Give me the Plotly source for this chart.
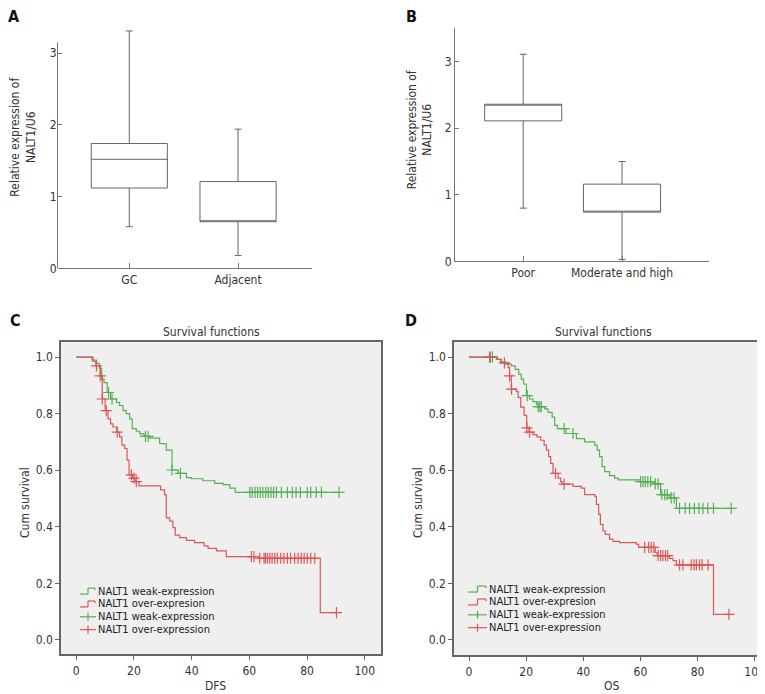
import numpy as np
import plotly.graph_objects as go

W, H = 765, 694
FONT = "DejaVu Sans Condensed, DejaVu Sans, sans-serif"
TXT = "#333333"
AX = "#777777"
GREEN = "#55b055"
RED = "#e05555"

# ---------------- Panel A: box plot ----------------
a_groups = ["GC", "Adjacent"]
a_lower = [0.58, 0.18]
a_q1 = [1.12, 0.65]
a_median = [1.52, 0.65]
a_q3 = [1.74, 1.21]
a_upper = [3.31, 1.94]
a_yticks = [0, 1, 2, 3]

# ---------------- Panel B: box plot ----------------
b_groups = ["Poor", "Moderate and high"]
b_lower = [0.80, 0.03]
b_q1 = [2.11, 0.74]
b_median = [2.36, 0.74]
b_q3 = [2.36, 1.16]
b_upper = [3.11, 1.50]
b_yticks = [0, 1, 2, 3]

# ---------------- Panel C: DFS Kaplan-Meier ----------------
c_weak_t = [0, 5.4, 7.0, 8.0, 8.8, 9.6, 10.7, 11.9, 13.9, 15.0, 16.2, 17.3, 18.5, 19.4, 20.8,
            22.0, 23.5, 25.4, 28.9, 31.2, 33.2, 35.3, 38.2, 40.0, 43.9, 48.0, 50.9, 53.2, 55.1, 91.1]
c_weak_s = [1.0, 0.99, 0.978, 0.96, 0.922, 0.91, 0.875, 0.852, 0.84, 0.829, 0.811, 0.80, 0.782, 0.747, 0.738,
            0.729, 0.72, 0.714, 0.694, 0.671, 0.601, 0.589, 0.574, 0.57, 0.563, 0.554, 0.549, 0.537, 0.522, 0.522]
c_weak_cens = [11.2, 12.4, 24.0, 24.9, 33.2, 36.1, 60.2, 61.0, 62.0, 62.9, 63.8, 64.7, 65.7, 66.6, 67.5,
               68.4, 69.4, 71.1, 73.2, 74.9, 76.2, 77.7, 80.1, 81.3, 83.2, 85.0, 91.1]

c_over_t = [0, 5.8, 6.8, 8.3, 9.0, 10.0, 11.0, 11.9, 12.7, 14.0, 15.0, 15.8, 16.8, 17.6, 18.3, 19.5, 20.4,
            21.7, 29.2, 30.6, 31.2, 32.4, 33.5, 34.3, 35.8, 38.2, 41.0, 44.3, 45.7, 48.6, 52.0, 63.3, 84.6, 90.2]
c_over_s = [1.0, 0.985, 0.969, 0.934, 0.852, 0.811, 0.782, 0.764, 0.753, 0.735, 0.718, 0.689, 0.677, 0.636,
            0.584, 0.572, 0.56, 0.545, 0.531, 0.514, 0.432, 0.42, 0.397, 0.371, 0.362, 0.352, 0.344, 0.333,
            0.324, 0.315, 0.295, 0.289, 0.097, 0.097]
c_over_cens = [7.0, 8.3, 9.0, 10.4, 14.2, 19.1, 20.0, 20.8, 60.7, 61.6, 63.6, 65.1, 65.6, 66.3, 67.1, 67.9,
               68.8, 69.7, 70.9, 72.0, 73.2, 74.3, 75.7, 76.9, 78.0, 79.0, 80.1, 81.3, 82.7, 90.2]

# ---------------- Panel D: OS Kaplan-Meier ----------------
d_weak_t = [0, 9.6, 11.3, 12.8, 14.8, 16.2, 17.4, 18.3, 19.1, 20.1, 21.2, 22.4, 23.6, 24.1, 26.5, 27.7,
            29.1, 30.0, 30.9, 34.0, 37.6, 40.5, 44.0, 44.9, 45.7, 46.6, 47.5, 49.2, 51.0, 52.2, 60.0, 64.8,
            67.1, 70.2, 72.6, 91.8]
d_weak_s = [1.0, 0.992, 0.983, 0.975, 0.969, 0.957, 0.94, 0.922, 0.905, 0.864, 0.852, 0.843, 0.834, 0.825,
            0.817, 0.805, 0.788, 0.759, 0.747, 0.73, 0.712, 0.70, 0.689, 0.671, 0.648, 0.613, 0.595, 0.581,
            0.572, 0.566, 0.56, 0.552, 0.514, 0.502, 0.465, 0.465]
d_weak_cens = [7.5, 8.2, 20.4, 24.2, 24.8, 25.3, 33.3, 36.4, 60.1, 60.9, 61.7, 62.6, 63.6, 65.2, 66.2,
               67.5, 68.5, 69.4, 70.8, 71.8, 73.7, 75.7, 77.2, 78.9, 80.5, 81.9, 83.6, 85.6, 91.8]

d_over_t = [0, 9.9, 11.1, 13.7, 14.2, 14.8, 16.6, 17.2, 18.1, 19.3, 20.2, 21.0, 22.4, 23.8, 25.1, 26.3,
            27.1, 27.9, 28.6, 29.4, 31.2, 32.1, 32.6, 36.4, 39.3, 40.5, 44.0, 44.6, 45.4, 46.0, 46.9, 47.7,
            49.2, 50.4, 52.7, 58.6, 59.4, 65.2, 65.9, 70.2, 71.4, 72.6, 85.6, 91.0]
d_over_s = [1.0, 0.992, 0.98, 0.963, 0.934, 0.887, 0.878, 0.858, 0.823, 0.794, 0.75, 0.735, 0.726, 0.718,
            0.706, 0.689, 0.671, 0.648, 0.624, 0.589, 0.572, 0.56, 0.551, 0.543, 0.537, 0.514, 0.508, 0.479,
            0.444, 0.408, 0.385, 0.373, 0.356, 0.348, 0.344, 0.338, 0.327, 0.309, 0.298, 0.288, 0.28, 0.265,
            0.09, 0.09]
d_over_cens = [7.2, 12.4, 14.2, 14.9, 20.3, 21.2, 30.3, 33.3, 61.5, 62.9, 63.8, 64.7, 66.2, 67.1, 67.9,
               68.8, 69.6, 73.7, 74.9, 77.8, 78.8, 79.6, 80.7, 81.6, 83.7, 91.0]

km_xticks = [0, 20, 40, 60, 80, 100]
km_yticks = [0.0, 0.2, 0.4, 0.6, 0.8, 1.0]
legend_labels = ["NALT1 weak-expression", "NALT1 over-expresion",
                 "NALT1 weak-expression", "NALT1 over-expression"]


def fx(px):
    return px / W


def fy(py):
    return 1 - py / H


def surv_at(t, s, tc):
    t = np.asarray(t)
    idx = np.searchsorted(t, np.asarray(tc), side="right") - 1
    return list(np.asarray(s)[idx])


fig = go.Figure()

# Box plots
for groups, lo, q1, med, q3, up, ax, wd in [
    (a_groups, a_lower, a_q1, a_median, a_q3, a_upper, "", 0.70),
    (b_groups, b_lower, b_q1, b_median, b_q3, b_upper, "2", 0.78),
]:
    fig.add_trace(go.Box(
        x=groups, q1=q1, median=med, q3=q3, lowerfence=lo, upperfence=up,
        xaxis="x" + ax, yaxis="y" + ax, width=wd, whiskerwidth=0.09,
        line=dict(color="#666666", width=1), fillcolor="white",
        boxpoints=False, showlegend=False, hoverinfo="skip"))

# KM curves
for t, s, cens, color, ax in [
    (c_weak_t, c_weak_s, c_weak_cens, GREEN, "3"),
    (c_over_t, c_over_s, c_over_cens, RED, "3"),
    (d_weak_t, d_weak_s, d_weak_cens, GREEN, "4"),
    (d_over_t, d_over_s, d_over_cens, RED, "4"),
]:
    fig.add_trace(go.Scatter(
        x=t, y=s, mode="lines", line=dict(color=color, width=1.2, shape="hv"),
        xaxis="x" + ax, yaxis="y" + ax, showlegend=False, hoverinfo="skip"))
    fig.add_trace(go.Scatter(
        x=cens, y=surv_at(t, s, cens), mode="markers",
        marker=dict(symbol="cross-thin", size=8, line=dict(color=color, width=1.2)),
        xaxis="x" + ax, yaxis="y" + ax, showlegend=False, hoverinfo="skip"))

tickfont = dict(family=FONT, size=12, color=TXT)
box_x = dict(showline=True, linecolor=AX, linewidth=1, ticks="inside", ticklen=5,
             tickcolor=AX, showgrid=False, zeroline=False, tickfont=tickfont, type="category")
box_y = dict(ticks="inside", ticklen=4, tickcolor=AX, showgrid=False, zeroline=False,
             tickfont=tickfont)
km_x = dict(showline=True, mirror=True, linecolor="#666666", linewidth=1.5, ticks="outside",
            ticklen=4, tickcolor="#666666", showgrid=False, zeroline=False, tickfont=tickfont,
            tickvals=km_xticks)
km_y = dict(showline=True, mirror=True, linecolor="#666666", linewidth=1.5, ticks="outside",
            ticklen=4, tickcolor="#666666", showgrid=False, zeroline=False, tickfont=tickfont,
            tickvals=km_yticks, tickformat=".1f")

fig.update_layout(
    width=W, height=H, margin=dict(l=0, r=0, t=0, b=0),
    paper_bgcolor="white", plot_bgcolor="white",
    font=dict(family=FONT, size=12, color=TXT),
    xaxis=dict(box_x, domain=[fx(49.5), fx(304)], range=[-0.66, 1.68], anchor="y"),
    yaxis=dict(box_y, domain=[fy(263), fy(13)], range=[0, 3.45], tickvals=a_yticks,
               showline=False, anchor="x"),
    xaxis2=dict(box_x, domain=[fx(447), fx(701)], range=[-0.69, 1.88], anchor="y2"),
    yaxis2=dict(box_y, domain=[fy(256), fy(20.5)], range=[0, 3.5], tickvals=b_yticks,
                showline=True, linecolor=AX, linewidth=1, anchor="x2"),
    xaxis3=dict(km_x, domain=[fx(53), fx(373)], range=[-5.3, 105.65], anchor="y3"),
    yaxis3=dict(km_y, domain=[fy(653), fy(337)], range=[-0.051, 1.055], anchor="x3"),
    xaxis4=dict(km_x, domain=[fx(446), fx(763.5)], range=[-5.25, 105.9], anchor="y4"),
    yaxis4=dict(km_y, domain=[fy(654), fy(337)], range=[-0.055, 1.055], anchor="x4"),
)

shapes = []
# y axis line of panel A (stops below the top whisker)
shapes.append(dict(type="line", xref="x domain", yref="y", x0=0, x1=0, y0=0, y1=3.15,
                   line=dict(color=AX, width=1)))
# gray plot backgrounds for KM panels
for ax in ["3", "4"]:
    shapes.append(dict(type="rect", xref="x%s domain" % ax, yref="y%s domain" % ax,
                       x0=0, x1=1, y0=0, y1=1, fillcolor="#efefef", line=dict(width=0),
                       layer="below"))


def seg(x0, y0, x1, y1, color):
    shapes.append(dict(type="line", xref="paper", yref="paper", x0=fx(x0), y0=fy(y0),
                       x1=fx(x1), y1=fy(y1), line=dict(color=color, width=1.2)))


annotations = []


def ann(text, x, y, size=12, bold=False, angle=0, xanchor="center", color=TXT):
    annotations.append(dict(
        text=("<b>%s</b>" % text) if bold else text, x=fx(x), y=fy(y), xref="paper",
        yref="paper", showarrow=False, xanchor=xanchor, yanchor="middle", textangle=angle,
        font=dict(family=FONT, size=size, color=color)))


# Legends (drawn inside KM panels)
for gx0, tx, rows in [(72, 88, [589, 602, 615, 628]), (460, 479, [587, 600, 613, 626])]:
    colors = [GREEN, RED, GREEN, RED]
    gm = (gx0 + tx) / 2
    for i, (lab, yy, col) in enumerate(zip(legend_labels, rows, colors)):
        if i < 2:
            seg(gx0, yy + 3, gm, yy + 3, col)
            seg(gm, yy + 3, gm, yy - 3, col)
            seg(gm, yy - 3, tx - 1, yy - 3, col)
            seg(tx - 1, yy - 3, tx - 1, yy - 1, col)
        else:
            seg(gx0, yy, tx, yy, col)
            seg(gm, yy - 4, gm, yy + 4, col)
        ann(lab, tx, yy, size=11, xanchor="left", color="#222222")

# Panel letters
ann("A", 6, 9, size=16, bold=True, color="#111111")
ann("B", 403, 9, size=16, bold=True, color="#111111")
ann("C", 7, 316, size=16, bold=True, color="#111111")
ann("D", 403, 316, size=16, bold=True, color="#111111")

# Axis titles
ann("Relative expression of<br>NALT1/U6", 15, 130, angle=-90)
ann("Relative expression of<br>NALT1/U6", 411.5, 123, angle=-90)
ann("Survival functions", 203, 327)
ann("Survival functions", 595, 327)
ann("DFS", 208, 685)
ann("OS", 603, 685)
ann("Cum survival", 17, 500, angle=-90)
ann("Cum survival", 410, 500, angle=-90)

fig.update_layout(shapes=shapes, annotations=annotations)
fig.write_html("out.html")
